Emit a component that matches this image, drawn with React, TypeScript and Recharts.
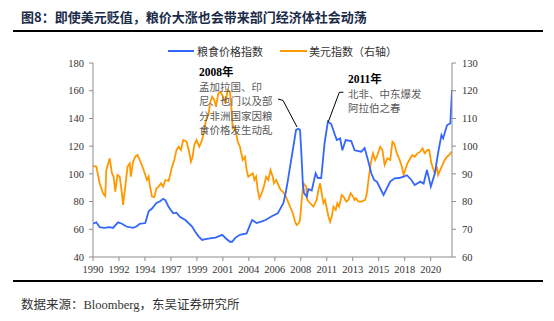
import React from 'react';
import { LineChart, Line, XAxis, YAxis, ReferenceLine } from 'recharts';

// 粮食价格指数 (left axis): [year, value]
const foodIndex: [number, number][] = [
  [1990.0, 64], [1990.3, 65], [1990.6, 61.5], [1991.0, 61], [1991.5, 61.5], [1991.8, 61],
  [1992.25, 65], [1992.6, 64], [1993.0, 62], [1993.6, 61], [1993.9, 62], [1994.2, 64],
  [1994.7, 64.5], [1995.0, 73], [1995.3, 75], [1995.7, 79], [1996.0, 80], [1996.3, 82],
  [1996.5, 81], [1996.8, 76], [1997.2, 71.5], [1997.5, 72], [1997.8, 69], [1998.3, 66.7],
  [1998.9, 62], [1999.2, 58], [1999.5, 54.7], [1999.8, 52.3], [2000.2, 53], [2000.5, 53.5],
  [2001.0, 54], [2001.6, 56], [2002.0, 53], [2002.3, 51], [2002.5, 51], [2002.8, 54],
  [2003.2, 56], [2003.8, 57], [2004.1, 63], [2004.3, 66.7], [2004.7, 64.5], [2005.1, 65.5],
  [2005.5, 66.7], [2006.1, 69.6], [2006.6, 71.5], [2007.1, 78.8], [2007.3, 86], [2007.5, 95],
  [2007.7, 105], [2008.0, 119.6], [2008.24, 131.7], [2008.45, 132.5], [2008.6, 131.7],
  [2008.75, 110], [2008.85, 93], [2008.96, 86], [2009.2, 83.5], [2009.35, 89], [2009.65, 88],
  [2010.0, 100.4], [2010.2, 97], [2010.5, 97], [2010.8, 122], [2011.1, 137.7], [2011.4, 136],
  [2011.65, 130], [2011.9, 124.4], [2012.2, 125.6], [2012.4, 117], [2012.7, 124.4],
  [2013.2, 123.6], [2013.5, 117], [2014.1, 116], [2014.4, 118.6], [2014.7, 110],
  [2015.0, 100.4], [2015.25, 95.6], [2015.5, 94.4], [2015.8, 89.6], [2016.1, 84.8],
  [2016.4, 89.6], [2016.7, 94.4], [2017.1, 96.8], [2017.5, 97], [2017.9, 98], [2018.2, 99],
  [2018.6, 95.6], [2018.9, 92], [2019.4, 94.4], [2019.7, 93], [2020.0, 102.8], [2020.2, 96],
  [2020.35, 90.8], [2020.7, 100], [2021.0, 115], [2021.3, 128], [2021.45, 125.6],
  [2021.8, 135], [2022.1, 136.5], [2022.25, 160.5],
];

// 美元指数 (right axis): [year, value]
const dollarIndex: [number, number][] = [
  [1990.0, 92.8], [1990.3, 92.6], [1990.6, 86.6], [1990.9, 83], [1991.1, 82], [1991.2, 91.4],
  [1991.5, 95.6], [1991.7, 90.2], [1991.85, 89], [1992.0, 83.6], [1992.2, 89.6], [1992.4, 89],
  [1992.6, 83], [1992.7, 78.8], [1992.9, 85.4], [1993.1, 92.6], [1993.3, 93.8], [1993.4, 89],
  [1993.6, 94.4], [1993.8, 96.2], [1994.0, 96.8], [1994.2, 95], [1994.5, 92], [1994.7, 89.6],
  [1994.85, 87.8], [1995.0, 89], [1995.1, 86], [1995.3, 81.8], [1995.5, 81.6], [1995.7, 84.8],
  [1995.9, 85.4], [1996.1, 86.6], [1996.3, 85.4], [1996.5, 87.8], [1996.8, 87.5], [1997.1, 92.6],
  [1997.3, 95], [1997.5, 98.6], [1997.7, 99.8], [1997.9, 98.6], [1998.1, 102.2], [1998.4, 101.6],
  [1998.6, 98.6], [1998.8, 94.4], [1998.95, 96.2], [1999.1, 100.4], [1999.3, 102.2],
  [1999.55, 99.8], [1999.8, 102.2], [2000.0, 105.8], [2000.15, 109.4], [2000.4, 111.8],
  [2000.5, 115.4], [2000.7, 117.8], [2000.9, 116.6], [2001.05, 114.2], [2001.25, 119],
  [2001.45, 119.6], [2001.7, 117.8], [2001.9, 115.4], [2002.1, 120.3], [2002.3, 119.6],
  [2002.45, 113], [2002.55, 106.4], [2002.75, 107], [2003.0, 101.6], [2003.2, 99.8],
  [2003.45, 95], [2003.65, 96.2], [2003.8, 91.4], [2003.95, 89], [2004.15, 89.6],
  [2004.35, 90.2], [2004.5, 87.8], [2004.65, 89], [2004.8, 84.2], [2004.95, 81.2],
  [2005.15, 83], [2005.35, 85.4], [2005.55, 89], [2005.75, 87.8], [2005.95, 91.4],
  [2006.15, 89], [2006.25, 86.6], [2006.45, 87.8], [2006.65, 86], [2006.85, 84.2],
  [2007.05, 83.6], [2007.25, 82.4], [2007.45, 80.6], [2007.7, 78.2], [2007.95, 75.8],
  [2008.15, 72.7], [2008.3, 71.5], [2008.45, 72], [2008.6, 73.3], [2008.75, 80.6],
  [2008.9, 86.6], [2009.15, 85.4], [2009.25, 80.6], [2009.5, 79.4], [2009.8, 78.2],
  [2010.1, 80.6], [2010.25, 84.2], [2010.4, 86.6], [2010.55, 83], [2010.7, 79.4],
  [2010.85, 80.6], [2011.0, 77.6], [2011.15, 74.6], [2011.3, 72.7], [2011.45, 74.6],
  [2011.6, 78.2], [2011.8, 77], [2011.95, 79.4], [2012.1, 78.2], [2012.35, 82.4],
  [2012.5, 81.8], [2012.75, 80], [2012.95, 80.6], [2013.15, 83], [2013.35, 81.8],
  [2013.5, 80.6], [2013.6, 81.2], [2013.85, 80], [2014.15, 80], [2014.45, 80.6],
  [2014.6, 83], [2014.75, 87.8], [2014.95, 93.8], [2015.15, 97.4], [2015.35, 95],
  [2015.55, 96.8], [2015.8, 99.8], [2016.0, 98.6], [2016.2, 93.2], [2016.45, 95.6],
  [2016.7, 95], [2016.9, 101.6], [2017.05, 101], [2017.3, 97.4], [2017.55, 95],
  [2017.75, 92.6], [2017.9, 89.6], [2018.05, 91.4], [2018.25, 93.8], [2018.5, 95.6],
  [2018.7, 96.8], [2018.9, 96.2], [2019.15, 97.4], [2019.4, 98], [2019.6, 99.2],
  [2019.8, 97.4], [2020.05, 98.6], [2020.2, 98.6], [2020.4, 93.8], [2020.6, 91.4],
  [2020.7, 90.2], [2020.9, 92.6], [2021.0, 89.6], [2021.2, 91.4], [2021.4, 93.2],
  [2021.6, 95], [2021.8, 96.2], [2022.0, 96.8], [2022.2, 98],
];

const xTicks = [1990, 1992.333, 1994.667, 1997, 1999.333, 2001.667, 2004, 2006.333, 2008.667, 2011, 2013.333, 2015.667, 2018, 2020.333];
const xTickLabels = ['1990', '1992', '1994', '1997', '1999', '2001', '2004', '2006', '2008', '2011', '2013', '2015', '2018', '2020'];
const leftTicks = [40, 60, 80, 100, 120, 140, 160, 180];
const rightTicks = [60, 70, 80, 90, 100, 110, 120, 130];

const seriesNames = { food: '粮食价格指数', usd: '美元指数（右轴）' };
const title = '图8：即使美元贬值，粮价大涨也会带来部门经济体社会动荡';
const source = '数据来源：Bloomberg，东吴证券研究所';
const note2008 = { year: '2008年', lines: ['孟加拉国、印', '尼、也门以及部', '分非洲国家因粮', '食价格发生动乱'] };
const note2011 = { year: '2011年', lines: ['北非、中东爆发', '阿拉伯之春'] };

const rows = [
  ...foodIndex.map(([t, v]) => ({ t, food: v as number | null, usd: null as number | null })),
  ...dollarIndex.map(([t, v]) => ({ t, food: null as number | null, usd: v as number | null })),
].sort((a, b) => a.t - b.t);

const BLUE = '#3366ff';
const ORANGE = '#ff9900';
const AXIS = '#8c8c8c';
const CJK = '"Noto Sans CJK SC", sans-serif';
const SERIF = '"Liberation Serif", "Noto Sans CJK SC", serif';

const tickStyle = { fontSize: 10.5, fill: '#333', fontFamily: 'Liberation Serif' };

export default function App() {
  return (
    <div style={{ position: 'absolute', left: 0, top: 0, width: 554, height: 321, background: '#fff', overflow: 'hidden' }}>
      <div style={{ position: 'absolute', left: 21, top: 8, fontFamily: CJK, fontWeight: 700, fontSize: 13, color: '#1a2b48', whiteSpace: 'nowrap', lineHeight: '18px' }}>
        {title}
      </div>
      <div style={{ position: 'absolute', left: 13, top: 30, width: 530, height: 2, background: '#000' }} />

      <div style={{ position: 'absolute', left: 168, top: 43, display: 'flex', alignItems: 'center', fontFamily: CJK, fontSize: 11, color: '#333', whiteSpace: 'nowrap', lineHeight: '16px' }}>
        <span style={{ display: 'inline-block', width: 26, height: 2, background: BLUE, marginRight: 3 }} />
        <span>{seriesNames.food}</span>
        <span style={{ display: 'inline-block', width: 27, height: 2, background: ORANGE, marginLeft: 17, marginRight: 2 }} />
        <span>{seriesNames.usd}</span>
      </div>

      <div style={{ position: 'absolute', left: 0, top: 0, fontFamily: '"Liberation Serif", serif' }}>
        <LineChart width={554} height={290} data={rows} margin={{ top: 63, right: 62, left: 53, bottom: 3 }} style={{ fontFamily: '"Liberation Serif", serif' }}>
          <XAxis
            type="number"
            dataKey="t"
            domain={[1990, 2022.25]}
            ticks={xTicks}
            interval={0}
            tickFormatter={(v: number) => xTickLabels[xTicks.indexOf(v)] ?? String(Math.floor(v))}
            tick={tickStyle}
            tickSize={4}
            tickMargin={5}
            axisLine={{ stroke: AXIS }}
            tickLine={{ stroke: AXIS }}
            height={30}
            allowDataOverflow
          />
          <YAxis
            yAxisId="left"
            orientation="left"
            domain={[40, 180]}
            ticks={leftTicks}
            interval={0}
            width={40}
            tick={tickStyle}
            tickSize={4}
            tickMargin={5}
            axisLine={{ stroke: AXIS }}
            tickLine={{ stroke: AXIS }}
          />
          <YAxis
            yAxisId="right"
            orientation="right"
            domain={[60, 130]}
            ticks={rightTicks}
            interval={0}
            width={40}
            tick={tickStyle}
            tickSize={4}
            tickMargin={6}
            axisLine={{ stroke: AXIS }}
            tickLine={{ stroke: AXIS }}
          />
          <Line yAxisId="right" type="linear" dataKey="usd" stroke={ORANGE} strokeWidth={1.8} dot={false} connectNulls isAnimationActive={false} />
          <Line yAxisId="left" type="linear" dataKey="food" stroke={BLUE} strokeWidth={1.8} dot={false} connectNulls isAnimationActive={false} />
          <ReferenceLine yAxisId="left" segment={[{ x: 2006.62, y: 154 }, { x: 2007.07, y: 153 }]} stroke="#000" strokeWidth={1} />
          <ReferenceLine yAxisId="left" segment={[{ x: 2007.07, y: 153 }, { x: 2008.33, y: 133.8 }]} stroke="#000" strokeWidth={1} />
          <ReferenceLine yAxisId="left" segment={[{ x: 2012.49, y: 158.9 }, { x: 2012.13, y: 158.9 }]} stroke="#000" strokeWidth={1} />
          <ReferenceLine yAxisId="left" segment={[{ x: 2012.13, y: 158.9 }, { x: 2011.14, y: 137.6 }]} stroke="#000" strokeWidth={1} />
        </LineChart>
      </div>

      <div style={{ position: 'absolute', left: 199, top: 65, fontFamily: CJK, fontSize: 10.5, lineHeight: '14.5px', color: '#595959', whiteSpace: 'nowrap' }}>
        <div style={{ fontWeight: 700, color: '#000', fontFamily: SERIF, fontSize: 11.5 }}>{note2008.year}</div>
        {note2008.lines.map((l) => <div key={l}>{l}</div>)}
      </div>
      <div style={{ position: 'absolute', left: 348, top: 72, fontFamily: CJK, fontSize: 10.5, lineHeight: '14.5px', color: '#595959', whiteSpace: 'nowrap' }}>
        <div style={{ fontWeight: 700, color: '#000', fontFamily: SERIF, fontSize: 11.5 }}>{note2011.year}</div>
        {note2011.lines.map((l) => <div key={l}>{l}</div>)}
      </div>

      <div style={{ position: 'absolute', left: 13, top: 280, width: 530, height: 2, background: '#000' }} />
      <div style={{ position: 'absolute', left: 21, top: 296, fontFamily: SERIF, fontSize: 12.5, color: '#333', whiteSpace: 'nowrap', lineHeight: '18px' }}>
        {source}
      </div>
    </div>
  );
}
